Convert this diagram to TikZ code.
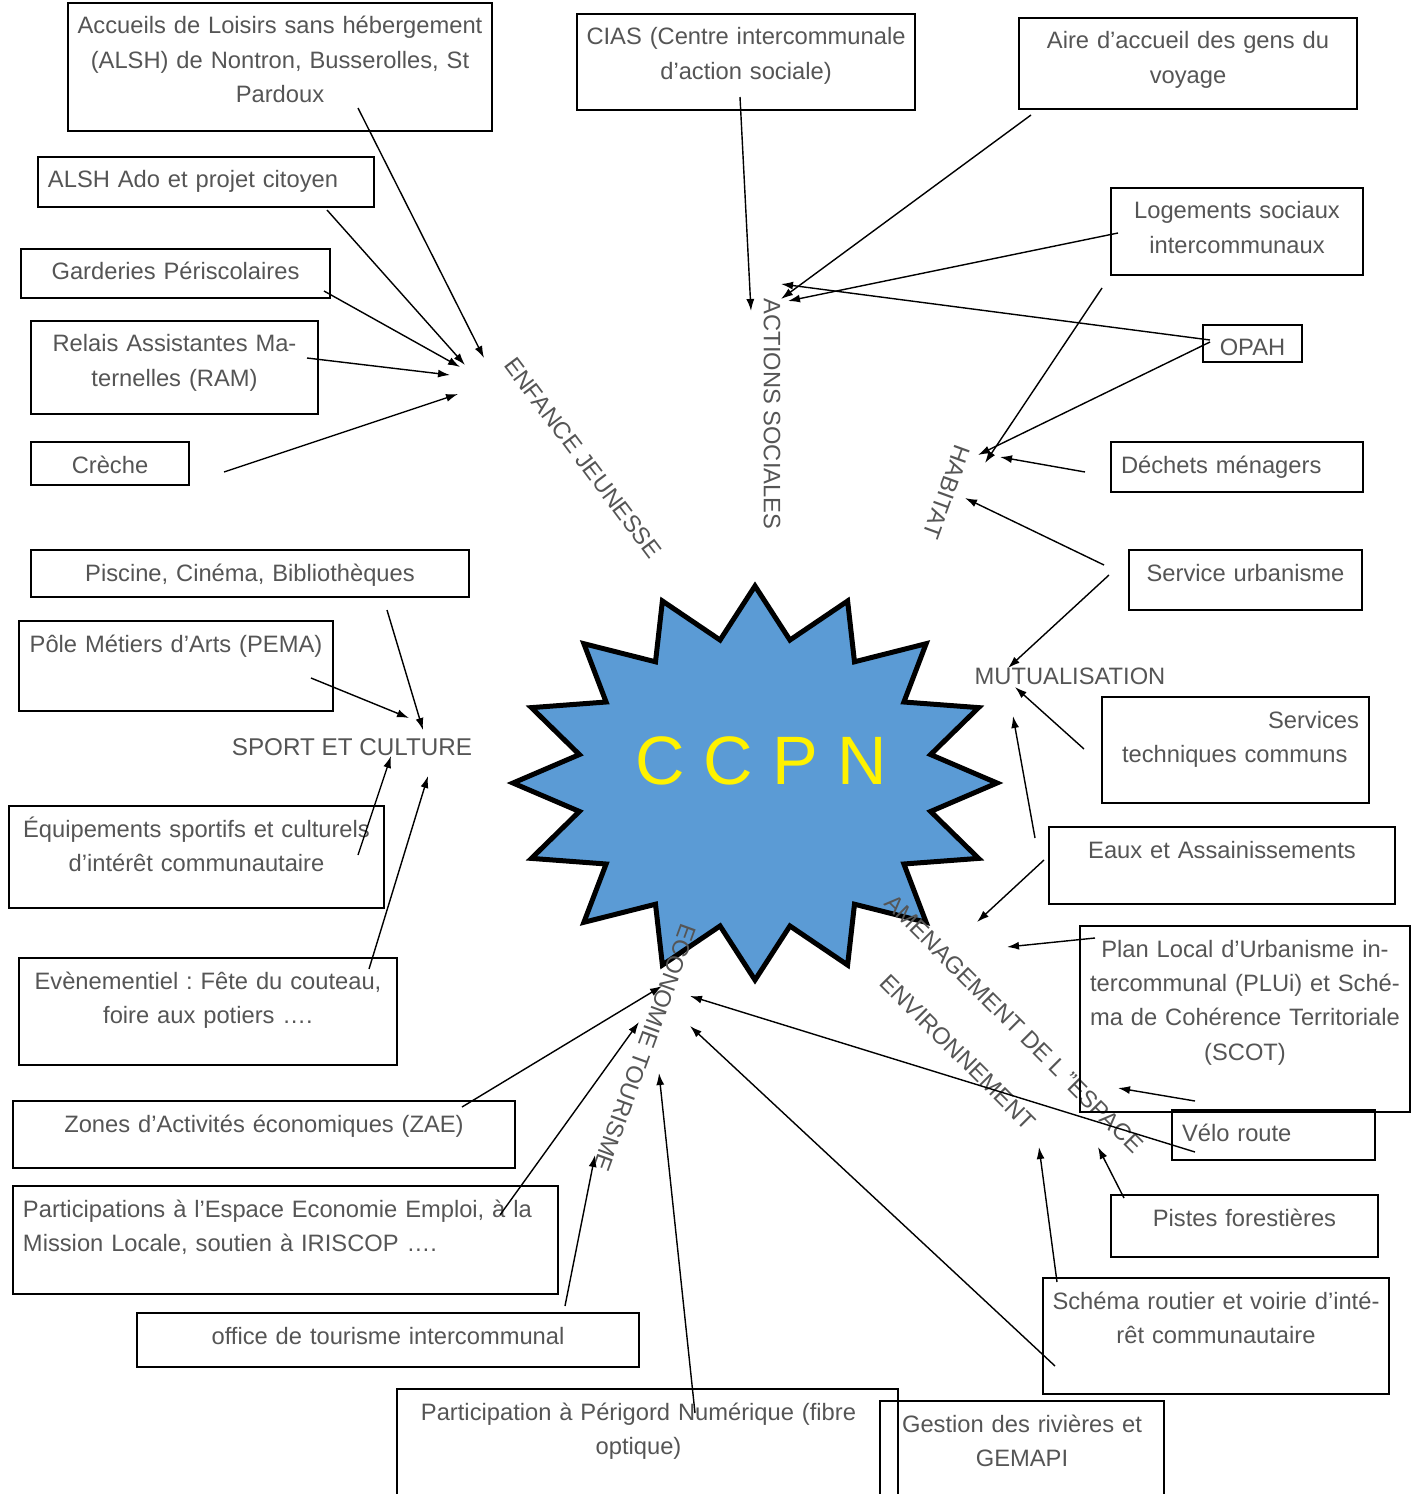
\documentclass[tikz,border=0pt]{standalone}
\usepackage{fontspec}
\setmainfont{Liberation Sans}
\usepackage{xcolor}
\usetikzlibrary{arrows.meta, calc}
\definecolor{txtgray}{RGB}{85,85,85}
\definecolor{starblue}{RGB}{91,155,213}
\newcommand{\boxfont}{\fontsize{13.5}{19.56}\selectfont}
\newcommand{\catfont}{\fontsize{13.5}{16}\selectfont}
\frenchspacing

\begin{document}
\begin{tikzpicture}[
	x=0.02cm, y=-0.02cm,
	% --- Style Definitions ---
	box/.style 2 args={draw=black, line width=1.1pt, text=txtgray, font=\boxfont,
		inner xsep=0pt, inner ysep=0pt, outer sep=0pt, text width={#1*0.02cm}, align=center,
		text height=0.62cm, text depth={(#2-31)*0.02cm}, anchor=north west},
	leftbox/.style 2 args={box={#1}{#2}, inner xsep=0.2cm, text width={(#1-20)*0.02cm}, align=left},
	category/.style={text=txtgray, font=\catfont, inner sep=0pt},
	arr/.style={-{Latex[length=2.4mm,width=1.6mm]}, line width=0.8pt},
	]
	
	\useasboundingbox (0,0) rectangle (1418,1494);
	
	% --- Parameters ---
	\def\Cx{755}     % star centre
	\def\Cy{783}
	\def\Rx{242}     % outer radii
	\def\Ry{197}
	\def\Ratio{0.74} % inner / outer
	
	% --- Central star ---
	\draw[line width=0.1cm, fill=starblue] (\Cx,{\Cy-\Ry})
		\foreach \i in {1,...,31} {
			-- ({\Cx+\Rx*(1-(1-\Ratio)*mod(\i,2))*sin(\i*11.25)}, {\Cy-\Ry*(1-(1-\Ratio)*mod(\i,2))*cos(\i*11.25)})
		} -- cycle;
	\node[font=\fontsize{39}{40}\selectfont, text=yellow, anchor=base, inner sep=0pt] (ccpn) at (761,784) {C C P N};
	
	% --- Category labels ---
	\node[category, rotate=-53] (enfance) at (583,458) {ENFANCE JEUNESSE};
	\node[category, rotate=-90] (actions) at (772,414) {ACTIONS SOCIALES};
	\node[category, rotate=-110] (habitat) at (947,492) {HABITAT};
	\node[category] (mutual) at (1070,676) {MUTUALISATION};
	\node[category, font=\fontsize{13.8}{16}\selectfont] (sport) at (352,747) {SPORT ET CULTURE};
	\node[category, rotate=-45] (amenag) at (1014,1024) {AMENAGEMENT DE L ”ESPACE};
	\node[category, rotate=-45] (environ) at (958,1052) {ENVIRONNEMENT};
	\node[category, rotate=-110] (economie) at (645,1048) {ECONOMIE TOURISME};
	
	% --- Boxes: left column ---
	\node[box={424}{128}] (accueils) at (68,3) {Accueils de Loisirs sans hébergement\\(ALSH) de Nontron, Busserolles, St\\Pardoux};
	\node[leftbox={336}{50}] (alshado) at (38,157) {ALSH Ado et projet citoyen};
	\node[box={309}{49}] (garderies) at (21,249) {Garderies Périscolaires};
	\node[box={287}{93}] (relais) at (31,321) {Relais Assistantes Ma-\\ternelles (RAM)};
	\node[box={158}{43}] (creche) at (31,442) {Crèche};
	\node[box={438}{47}] (piscine) at (31,550) {Piscine, Cinéma, Bibliothèques};
	\node[box={314}{90}] (pema) at (19,621) {Pôle Métiers d’Arts (PEMA)};
	\node[box={375}{102}] (equipements) at (9,806) {Équipements sportifs et culturels\\d’intérêt communautaire};
	\node[box={378}{107}] (evenement) at (19,958) {Evènementiel : Fête du couteau,\\foire aux potiers ….};
	\node[box={502}{67}] (zae) at (13,1101) {Zones d’Activités économiques (ZAE)};
	\node[leftbox={545}{108}] (espace) at (13,1186) {Participations à l’Espace Economie Emploi, à la\\Mission Locale, soutien à IRISCOP ….};
	\node[box={502}{54}] (office) at (137,1313) {office de tourisme intercommunal};
	\node[box={501}{130}] (numerique) at (397,1389) {Participation à Périgord Numérique (fibre\hspace*{0.36cm}\mbox{}\\optique)\hspace*{0.36cm}\mbox{}};
	
	% --- Boxes: top and right column ---
	\node[box={338}{96}] (cias) at (577,14) {CIAS (Centre intercommunale\\d’action sociale)};
	\node[box={338}{91}] (aire) at (1019,18) {Aire d’accueil des gens du\\voyage};
	\node[box={252}{87}] (logements) at (1111,188) {Logements sociaux\\intercommunaux};
	\node[box={99}{37}] (opah) at (1203,325) {OPAH};
	\node[leftbox={252}{50}] (dechets) at (1111,442) {Déchets ménagers};
	\node[box={233}{60}] (urbanisme) at (1129,550) {Service urbanisme};
	\node[leftbox={267}{106}] (techniques) at (1102,697) {\hfill Services\\\hspace*{0.2cm}techniques communs};
	\node[box={346}{77}] (eaux) at (1049,827) {Eaux et Assainissements};
	\node[box={330}{186}] (plui) at (1080,926) {Plan Local d’Urbanisme in-\\tercommunal (PLUi) et Sché-\\ma de Cohérence Territoriale\\(SCOT)};
	\node[leftbox={203}{50}] (velo) at (1172,1110) {Vélo route};
	\node[box={267}{62}] (pistes) at (1111,1195) {Pistes forestières};
	\node[box={346}{116}] (schema) at (1043,1278) {Schéma routier et voirie d’inté-\\rêt communautaire};
	\node[box={284}{130}] (gemapi) at (880,1401) {Gestion des rivières et\\GEMAPI};
	
	% --- Arrows: enfance jeunesse ---
	\draw[arr] ([shift={(290,105)}]accueils.north west) -- ([shift={(-99,-100)}]enfance.center);
	\draw[arr] ([shift={(289,53)}]alshado.north west) -- ([shift={(-118,-93)}]enfance.center);
	\draw[arr] ([shift={(303,42)}]garderies.north west) -- ([shift={(-123,-91)}]enfance.center);
	\draw[arr] ([shift={(276,37)}]relais.north west) -- ([shift={(-133,-83)}]enfance.center);
	\draw[arr] ([shift={(193,30)}]creche.north west) -- ([shift={(-125,-64)}]enfance.center);
	
	% --- Arrows: actions sociales ---
	\draw[arr] ([shift={(163,83)}]cias.north west) -- ([shift={(-21,-103)}]actions.center);
	\draw[arr] ([shift={(12,97)}]aire.north west) -- ([shift={(9,-115)}]actions.center);
	\draw[arr] ([shift={(7,45)}]logements.north west) -- ([shift={(16,-113)}]actions.center);
	\draw[arr] ([shift={(7,15)}]opah.north west) -- ([shift={(9,-130)}]actions.center);
	
	% --- Arrows: habitat ---
	\draw[arr] ([shift={(7,17)}]opah.north west) -- ([shift={(31,-37)}]habitat.center);
	\draw[arr] ([shift={(-9,100)}]logements.north west) -- ([shift={(38,-29)}]habitat.center);
	\draw[arr] ([shift={(-26,30)}]dechets.north west) -- ([shift={(53,-35)}]habitat.center);
	\draw[arr] ([shift={(-25,15)}]urbanisme.north west) -- ([shift={(18,6)}]habitat.center);
	
	% --- Arrows: mutualisation ---
	\draw[arr] ([shift={(-20,25)}]urbanisme.north west) -- ([shift={(-62,-8)}]mutual.center);
	\draw[arr] ([shift={(-18,52)}]techniques.north west) -- ([shift={(-55,11)}]mutual.center);
	\draw[arr] ([shift={(-14,11)}]eaux.north west) -- ([shift={(-57,40)}]mutual.center);
	
	% --- Arrows: amenagement / environnement ---
	\draw[arr] ([shift={(-5,33)}]eaux.north west) -- ([shift={(-37,-102)}]amenag.center);
	\draw[arr] ([shift={(15,12)}]plui.north west) -- ([shift={(-7,-77)}]amenag.center);
	\draw[arr] ([shift={(23,-9)}]velo.north west) -- ([shift={(104,64)}]amenag.center);
	\draw[arr] ([shift={(13,3)}]pistes.north west) -- ([shift={(140,95)}]environ.center);
	\draw[arr] ([shift={(14,4)}]schema.north west) -- ([shift={(81,95)}]environ.center);
	
	% --- Arrows: economie tourisme ---
	\draw[arr] ([shift={(23,42)}]velo.north west) -- ([shift={(45,-52)}]economie.center);
	\draw[arr] ([shift={(12,88)}]schema.north west) -- ([shift={(45,-22)}]economie.center);
	\draw[arr] ([shift={(449,6)}]zae.north west) -- ([shift={(17,-62)}]economie.center);
	\draw[arr] ([shift={(487,29)}]espace.north west) -- ([shift={(-6,-26)}]economie.center);
	\draw[arr] ([shift={(428,-7)}]office.north west) -- ([shift={(-50,107)}]economie.center);
	\draw[arr] ([shift={(298,24)}]numerique.north west) -- ([shift={(14,25)}]economie.center);
	
	% --- Arrows: sport et culture ---
	\draw[arr] ([shift={(356,60)}]piscine.north west) -- ([shift={(71,-17)}]sport.center);
	\draw[arr] ([shift={(292,57)}]pema.north west) -- ([shift={(57,-29)}]sport.center);
	\draw[arr] ([shift={(349,49)}]equipements.north west) -- ([shift={(39,9)}]sport.center);
	\draw[arr] ([shift={(350,11)}]evenement.north west) -- ([shift={(76,29)}]sport.center);
	
\end{tikzpicture}
\end{document}
